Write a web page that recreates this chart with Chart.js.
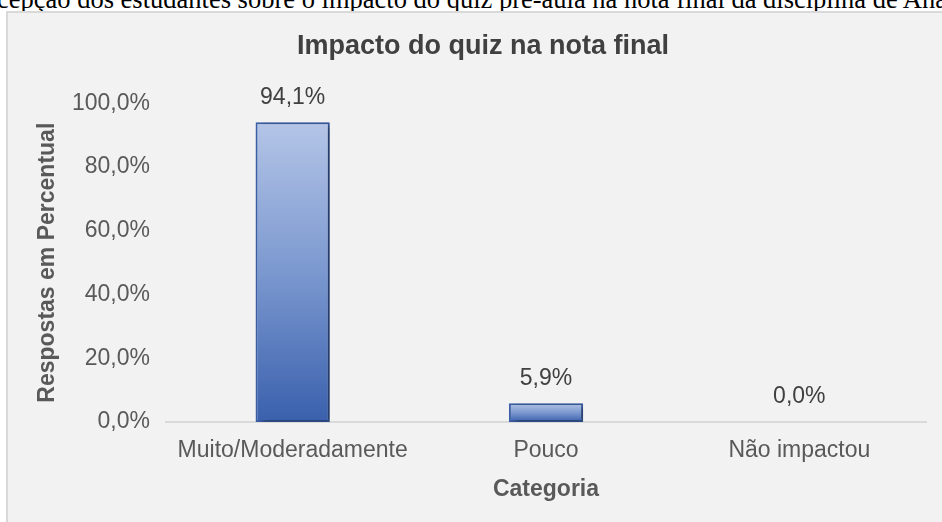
<!DOCTYPE html>
<html>
<head>
<meta charset="utf-8">
<script src="https://cdn.jsdelivr.net/npm/chart.js@4.4.1/dist/chart.umd.min.js"></script>
<style>
    html, body {
        margin: 0;
        padding: 0;
        width: 942px;
        height: 522px;
        overflow: hidden;
        background: #ffffff;
    }
    .caption {
        position: absolute;
        left: -3px;
        top: -14px;
        font-family: 'Liberation Serif', 'Times New Roman', serif;
        font-size: 26.5px;
        line-height: 26px;
        white-space: nowrap;
        color: #000000;
    }
    .chart-box {
        position: absolute;
        left: 6px;
        top: 11px;
        width: 950px;
        height: 530px;
        border: 2px solid #d9d9d9;
        background: #f2f2f2;
    }
</style>
</head>
<body>
<div class="caption">cepção dos estudantes sobre o impacto do quiz pré-aula na nota final da disciplina de Ana</div>
<div class="chart-box">
    <canvas id="impactChart" width="950" height="505"></canvas>
</div>

<script>
// Chart data
const categories = ['Muito/Moderadamente', 'Pouco', 'Não impactou'];
const percentValues = [94.1, 5.9, 0.0];
const yTickValues = [0, 20, 40, 60, 80, 100];

const chartTitle = 'Impacto do quiz na nota final';
const xAxisTitle = 'Categoria';
const yAxisTitle = 'Respostas em Percentual';

const fontFamily = "'Liberation Sans', Arial, sans-serif";

function formatPercent(value) {
    return value.toFixed(1).replace('.', ',') + '%';
}

// Vertical gradient over each bar's own height
function barGradient(context) {
    const chart = context.chart;
    const yScale = chart.scales.y;
    if (!chart.chartArea || !yScale) {
        return '#4a6fb8';
    }
    const value = percentValues[context.dataIndex];
    const top = yScale.getPixelForValue(value);
    const bottom = yScale.getPixelForValue(0);
    if (bottom - top < 1) {
        return '#3a60ad';
    }
    const gradient = chart.ctx.createLinearGradient(0, top, 0, bottom);
    gradient.addColorStop(0, '#b4c5e7');
    gradient.addColorStop(0.5, '#7b98cf');
    gradient.addColorStop(1, '#3a60ad');
    return gradient;
}

// Soft shadow behind the bars
const barShadow = {
    id: 'barShadow',
    beforeDatasetsDraw(chart) {
        const ctx = chart.ctx;
        ctx.save();
        ctx.shadowColor = 'rgba(0, 0, 0, 0.4)';
        ctx.shadowBlur = 6;
        ctx.shadowOffsetX = 4;
        ctx.shadowOffsetY = 2;
    },
    afterDatasetsDraw(chart) {
        chart.ctx.restore();
    }
};

// Value labels above the bars
const valueLabels = {
    id: 'valueLabels',
    afterDatasetsDraw(chart) {
        const ctx = chart.ctx;
        const meta = chart.getDatasetMeta(0);
        ctx.save();
        ctx.font = '23px ' + fontFamily;
        ctx.fillStyle = '#404040';
        ctx.textAlign = 'center';
        ctx.textBaseline = 'middle';
        meta.data.forEach(function(bar, i) {
            ctx.fillText(formatPercent(percentValues[i]), bar.x, bar.y - 25);
        });
        ctx.restore();
    }
};

document.addEventListener('DOMContentLoaded', function() {
    const ctx = document.getElementById('impactChart').getContext('2d');

    new Chart(ctx, {
        type: 'bar',
        data: {
            labels: categories,
            datasets: [{
                label: yAxisTitle,
                data: percentValues,
                backgroundColor: barGradient,
                borderColor: '#3b5fa8',
                borderWidth: 2,
                borderSkipped: false,
                barPercentage: 0.293,
                categoryPercentage: 1
            }]
        },
        options: {
            responsive: false,
            animation: false,
            layout: {
                padding: { left: 32, right: 32, top: 0, bottom: 0 }
            },
            plugins: {
                legend: { display: false },
                tooltip: { enabled: false },
                title: {
                    display: true,
                    text: chartTitle,
                    color: '#404040',
                    font: { family: fontFamily, size: 27, weight: 'bold' },
                    padding: { top: 17, bottom: 41 }
                }
            },
            scales: {
                x: {
                    grid: { display: false, drawTicks: false },
                    border: { display: true, color: '#d9d9d9', width: 2 },
                    ticks: {
                        color: '#595959',
                        font: { family: fontFamily, size: 23 },
                        padding: 15
                    },
                    title: {
                        display: true,
                        text: xAxisTitle,
                        color: '#595959',
                        font: { family: fontFamily, size: 23, weight: 'bold' },
                        padding: { top: 0, bottom: 15 }
                    },
                    afterFit: function(scale) {
                        scale.height = 96;
                    }
                },
                y: {
                    min: 0,
                    max: 100,
                    grid: { display: false, drawTicks: false },
                    border: { display: false },
                    afterBuildTicks: function(scale) {
                        scale.ticks = yTickValues.map(function(v) { return { value: v }; });
                    },
                    ticks: {
                        color: '#595959',
                        font: { family: fontFamily, size: 23 },
                        padding: 16,
                        callback: function(value) {
                            return formatPercent(value);
                        }
                    },
                    title: {
                        display: true,
                        text: yAxisTitle,
                        color: '#595959',
                        font: { family: fontFamily, size: 23, weight: 'bold' },
                        padding: { top: -6, bottom: 0 }
                    },
                    afterFit: function(scale) {
                        scale.width = 126;
                    }
                }
            }
        },
        plugins: [barShadow, valueLabels]
    });
});
</script>
</body>
</html>
